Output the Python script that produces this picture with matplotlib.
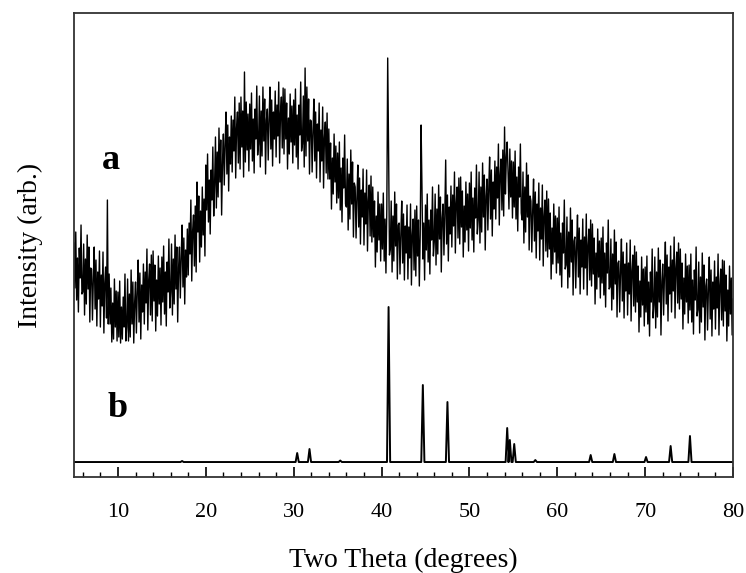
import numpy as np
import matplotlib
matplotlib.use("Agg")
import matplotlib.pyplot as plt
from matplotlib.ticker import MultipleLocator

plt.rcParams["font.family"] = ["Liberation Serif", "DejaVu Serif"]

# pattern a: measured sample, 2theta grid 5..80 step 0.1 (one row per degree)
theta_a = np.round(np.arange(5.0, 80.0 + 1e-9, 0.1), 2)
intensity_a = [
    234, 189, 245, 177, 219, 165, 229, 199, 252, 183,
    185, 233, 162, 218, 173, 242, 188, 230, 155, 209,
    208, 157, 198, 230, 168, 217, 151, 205, 178, 226,
    150, 202, 171, 225, 144, 194, 210, 159, 277, 153,
    203, 153, 189, 135, 174, 138, 198, 150, 186, 136,
    185, 140, 196, 134, 170, 138, 180, 150, 203, 136,
    150, 198, 136, 183, 140, 207, 153, 195, 134, 174,
    195, 144, 185, 217, 155, 204, 138, 192, 165, 213,
    153, 205, 174, 228, 147, 197, 213, 162, 222, 156,
    226, 176, 212, 146, 197, 161, 221, 173, 209, 152,
    220, 175, 231, 163, 205, 151, 215, 185, 238, 169,
    185, 233, 162, 218, 173, 242, 188, 230, 155, 209,
    230, 179, 220, 252, 190, 239, 173, 227, 200, 248,
    202, 254, 223, 277, 196, 246, 262, 211, 271, 205,
    295, 245, 281, 215, 266, 230, 290, 242, 278, 221,
    312, 267, 323, 255, 297, 243, 307, 277, 330, 261,
    292, 340, 269, 325, 280, 349, 295, 337, 262, 316,
    343, 292, 333, 365, 303, 352, 286, 340, 313, 361,
    305, 357, 326, 380, 299, 349, 365, 314, 374, 308,
    380, 330, 366, 300, 405, 315, 375, 327, 363, 306,
    373, 328, 384, 316, 358, 304, 368, 338, 391, 322,
    333, 381, 310, 366, 321, 390, 336, 378, 303, 357,
    368, 317, 358, 390, 328, 377, 311, 365, 338, 386,
    320, 372, 341, 395, 314, 364, 380, 329, 389, 323,
    388, 338, 374, 308, 359, 323, 383, 335, 371, 314,
    377, 332, 388, 320, 362, 308, 372, 342, 395, 326,
    333, 381, 310, 409, 321, 390, 336, 378, 303, 357,
    356, 305, 346, 378, 316, 365, 299, 353, 326, 374,
    295, 347, 316, 370, 289, 339, 355, 304, 364, 298,
    348, 298, 334, 268, 319, 283, 343, 295, 331, 274,
    324, 279, 335, 267, 309, 255, 319, 289, 342, 273,
    270, 318, 247, 303, 258, 327, 273, 315, 240, 294,
    290, 239, 280, 312, 250, 299, 233, 287, 260, 308,
    232, 284, 253, 307, 226, 276, 292, 241, 301, 235,
    290, 240, 276, 210, 261, 225, 285, 237, 273, 216,
    273, 228, 284, 216, 258, 204, 268, 419, 330, 222,
    228, 276, 205, 261, 216, 285, 231, 273, 198, 252,
    254, 203, 244, 276, 214, 263, 197, 251, 224, 272,
    198, 250, 219, 273, 192, 242, 258, 207, 267, 201,
    271, 221, 257, 191, 242, 352, 290, 218, 254, 197,
    272, 227, 283, 215, 257, 203, 267, 237, 290, 221,
    235, 283, 212, 268, 223, 292, 238, 280, 205, 259,
    273, 222, 263, 317, 233, 282, 216, 270, 243, 291,
    230, 282, 251, 305, 224, 274, 290, 239, 299, 233,
    300, 250, 286, 220, 271, 235, 295, 247, 283, 226,
    294, 249, 305, 237, 279, 225, 289, 259, 312, 243,
    257, 305, 234, 290, 245, 314, 260, 302, 227, 281,
    298, 247, 288, 320, 258, 307, 241, 295, 268, 316,
    258, 310, 279, 333, 252, 302, 318, 267, 327, 261,
    350, 283, 319, 335, 304, 268, 328, 280, 316, 259,
    315, 270, 326, 258, 300, 246, 310, 280, 333, 264,
    257, 305, 234, 290, 245, 314, 260, 302, 227, 281,
    276, 225, 266, 298, 236, 285, 219, 273, 246, 294,
    217, 269, 238, 292, 211, 261, 277, 226, 286, 220,
    278, 228, 264, 198, 249, 213, 273, 225, 261, 204,
    259, 214, 270, 202, 244, 190, 254, 224, 277, 208,
    212, 260, 189, 245, 200, 269, 215, 257, 182, 236,
    240, 189, 230, 262, 200, 249, 183, 237, 210, 258,
    188, 240, 209, 263, 182, 232, 248, 197, 257, 191,
    253, 203, 239, 173, 224, 188, 248, 200, 236, 179,
    239, 194, 250, 182, 224, 170, 234, 204, 257, 188,
    190, 238, 167, 223, 178, 247, 193, 235, 160, 214,
    216, 165, 206, 238, 176, 225, 159, 213, 186, 234,
    162, 214, 183, 237, 156, 206, 222, 171, 231, 165,
    225, 175, 211, 145, 196, 160, 220, 172, 208, 151,
    210, 165, 221, 153, 195, 141, 205, 175, 228, 159,
    172, 220, 149, 205, 160, 229, 175, 217, 142, 196,
    213, 162, 203, 235, 173, 222, 156, 210, 183, 231,
    165, 217, 186, 240, 159, 209, 225, 174, 234, 168,
    228, 178, 214, 148, 199, 163, 223, 175, 211, 154,
    212, 167, 223, 155, 197, 143, 207, 177, 230, 161,
    167, 215, 144, 200, 155, 224, 170, 212, 137, 191,
    198, 147, 188, 220, 158, 207, 141, 195, 168, 216,
    148, 200, 169, 223, 142, 192, 208, 157, 217, 151,
    216, 166, 202, 136, 187, 151, 211, 163, 199, 142,
    178,
]

# pattern b: reference peaks
base_b = 15
peak_pos_b = [17.3, 30.4, 31.8, 35.3, 40.8, 44.7, 47.5, 54.3, 54.6, 55.1,
              57.5, 63.8, 66.5, 70.1, 72.9, 75.1]
peak_h_b = [1, 9, 13, 1.5, 155, 77, 60, 34, 22, 18,
            2, 7, 8, 5, 16, 26]

# build the b profile as narrow triangles on a flat baseline
xb = [5.0]
yb = [base_b]
for p, h in zip(peak_pos_b, peak_h_b):
    xb += [p - 0.18, p, p + 0.18]
    yb += [base_b, base_b + h, base_b]
xb.append(80.0)
yb.append(base_b)

fig = plt.figure(figsize=(7.46, 5.73), dpi=100)
ax = fig.add_axes([0.0992, 0.1675, 0.8834, 0.8098])

ax.plot(theta_a, intensity_a, color="black", lw=1.0)
ax.plot(xb, yb, color="black", lw=1.4)

ax.text(9.2, 317, "a", fontsize=26, fontweight="bold", ha="center", va="center")
ax.text(10.0, 69, "b", fontsize=26, fontweight="bold", ha="center", va="center")

ax.set_xlim(5, 80)
ax.set_ylim(0, 464)
ax.set_yticks([])
ax.xaxis.set_major_locator(MultipleLocator(10))
ax.xaxis.set_minor_locator(MultipleLocator(2))
ax.tick_params(axis="x", which="major", direction="in", length=7, width=1.2,
               labelsize=16, pad=19)
ax.tick_params(axis="x", which="minor", direction="in", length=3.5, width=1.0)
for s in ax.spines.values():
    s.set_linewidth(1.3)
    s.set_color("#333333")

ax.set_xlabel("Two Theta (degrees)", fontsize=20, labelpad=18)
ax.set_ylabel("Intensity (arb.)", fontsize=20, labelpad=22)

fig.savefig("out.png", dpi=100)
